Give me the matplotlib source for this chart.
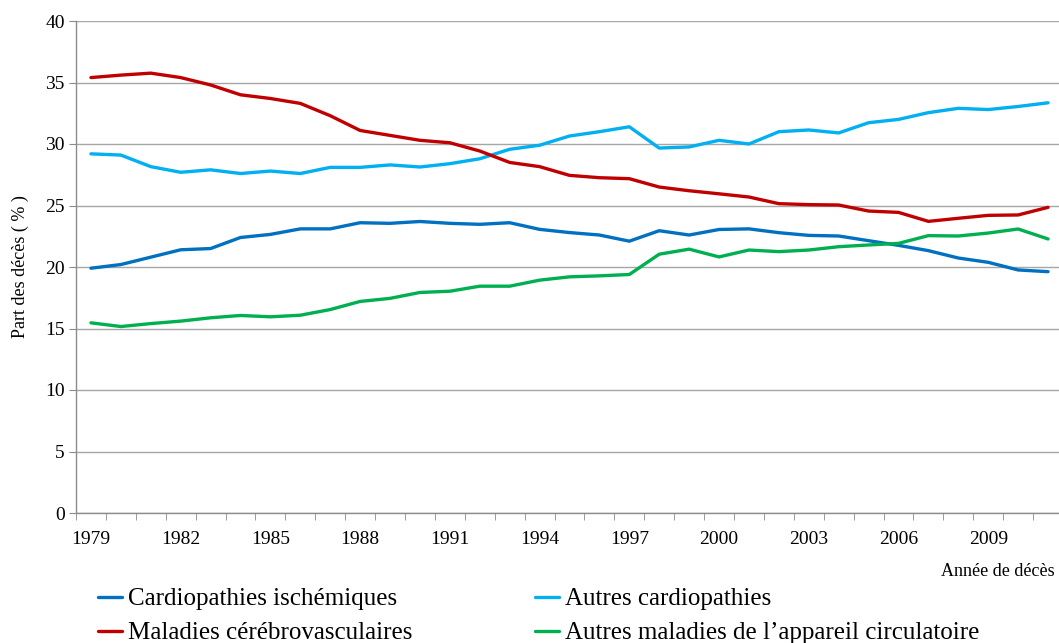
import numpy as np
import matplotlib
matplotlib.use("Agg")
import matplotlib.pyplot as plt

# values (share of deaths, %)
years = list(range(1979, 2012))

cardio_isch = [19.9, 20.2, 20.8, 21.4, 21.5, 22.4, 22.65, 23.1, 23.1, 23.6, 23.55,
               23.7, 23.55, 23.47, 23.6, 23.06, 22.8, 22.6, 22.1, 22.95, 22.6,
               23.05, 23.1, 22.79, 22.57, 22.52, 22.14, 21.76, 21.33, 20.73, 20.38,
               19.76, 19.62]
autres_cardio = [29.2, 29.1, 28.16, 27.7, 27.9, 27.6, 27.8, 27.6, 28.1, 28.1, 28.3,
                 28.13, 28.4, 28.8, 29.57, 29.9, 30.65, 31.0, 31.4, 29.67, 29.76,
                 30.3, 30.0, 31.0, 31.14, 30.9, 31.73, 32.0, 32.55, 32.9, 32.8,
                 33.05, 33.35]
cerebro = [35.4, 35.6, 35.76, 35.4, 34.8, 34.0, 33.7, 33.3, 32.3, 31.1, 30.7,
           30.3, 30.1, 29.43, 28.5, 28.16, 27.45, 27.26, 27.18, 26.5, 26.2,
           25.95, 25.69, 25.15, 25.07, 25.04, 24.55, 24.44, 23.71, 23.96, 24.2,
           24.23, 24.85]
autres_circ = [15.46, 15.16, 15.4, 15.6, 15.87, 16.06, 15.95, 16.08, 16.54, 17.2, 17.45,
               17.93, 18.03, 18.44, 18.44, 18.93, 19.2, 19.28, 19.39, 21.04, 21.45,
               20.82, 21.38, 21.25, 21.38, 21.65, 21.79, 21.92, 22.55, 22.52, 22.76,
               23.09, 22.28]

labels = ["Cardiopathies ischémiques", "Autres cardiopathies",
          "Maladies cérébrovasculaires", "Autres maladies de l\u2019appareil circulatoire"]
colors = ["#0070C0", "#00B0F0", "#C00000", "#00B050"]
tick_years = list(range(1979, 2010, 3))

plt.rcParams["font.family"] = ["Liberation Serif", "DejaVu Serif"]

W, H = 1059, 643
fig = plt.figure(figsize=(W / 100, H / 100), dpi=100)
ax = fig.add_axes([76 / W, (H - 513) / H, (1063 - 76) / W, (513 - 21) / H])

series = [cardio_isch, autres_cardio, cerebro, autres_circ]
lines = []
for vals, lab, col in zip(series, labels, colors):
    ln, = ax.plot(years, vals, color=col, lw=2.4, label=lab, solid_capstyle="round", zorder=3)
    lines.append(ln)

ax.set_xlim(1978.5, 2011.5)
ax.set_ylim(0, 40)
ax.set_yticks(np.arange(0, 41, 5))
ax.set_xticks(tick_years)
ax.set_xticks(np.arange(1978.5, 2011.6, 1), minor=True)
ax.grid(axis="y", color="#a6a6a6", lw=1)
ax.set_axisbelow(True)

for s in ["top", "right"]:
    ax.spines[s].set_visible(False)
for s in ["left", "bottom"]:
    ax.spines[s].set_color("#8c8c8c")
    ax.spines[s].set_linewidth(1)

ax.tick_params(axis="y", direction="out", length=5, color="#8c8c8c", labelsize=14, pad=3)
ax.tick_params(axis="x", which="major", length=0, labelsize=14, pad=13)
ax.tick_params(axis="x", which="minor", direction="out", length=5, color="#8c8c8c")

ax.set_ylabel("Part des décès ( % )", fontsize=13, labelpad=12)
fig.text(1055 / W, 1 - 571 / H, "Année de décès", ha="right", va="center", fontsize=13)

order = [0, 2, 1, 3]
leg = fig.legend([lines[i] for i in order], [labels[i] for i in order],
                 loc="upper left", bbox_to_anchor=(98 / W, 1 - 588 / H),
                 ncol=2, frameon=False, fontsize=18, handlelength=0.96,
                 handletextpad=0.25, columnspacing=4.9, labelspacing=0.45,
                 borderaxespad=0, borderpad=0)

fig.savefig("out.png", dpi=100)
